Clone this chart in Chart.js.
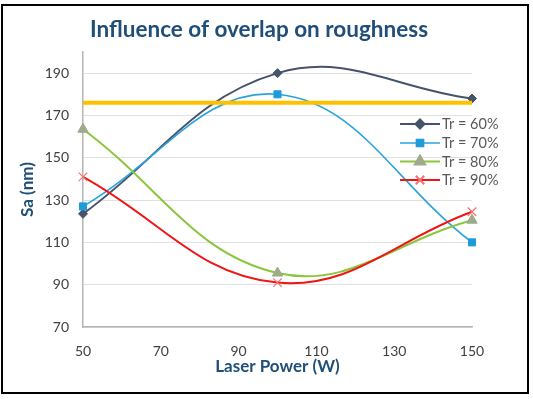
<!DOCTYPE html>
<html><head><meta charset="utf-8">
<script src="https://cdn.jsdelivr.net/npm/chart.js@4"></script>
<style>html,body{margin:0;padding:0;background:#fff}#wrap{position:relative;width:533px;height:399px}</style>
</head><body><div id="wrap"><canvas id="c" width="533" height="399"></canvas></div>
<script>
const chartTitle = 'Influence of overlap on roughness';
const xAxisTitle = 'Laser Power (W)';
const yAxisTitle = 'Sa (nm)';
const laserPower = [50, 100, 150];
const tr60 = [123.5, 190, 178];
const tr70 = [127, 180, 110];
const tr80 = [163.5, 95.5, 120.5];
const tr90 = [141, 91, 124.5];
const thresholdValue = 176;
const seriesLabels = ['Tr = 60%', 'Tr = 70%', 'Tr = 80%', 'Tr = 90%'];
const xTicks = [50, 70, 90, 110, 130, 150];
const yTicks = [70, 90, 110, 130, 150, 170, 190];

const FONT = 'Lato';
const toPts = (vals) => vals.map((v, i) => ({x: laserPower[i], y: v}));

const seriesStyles = [
  {line: '#44546A', point: '#44546A', style: 'rectRot', r: 4.5, w: 2},
  {line: '#29A3DE', point: '#1F9BD8', style: 'rect', r: 5, w: 1.6},
  {line: '#8CC63F', point: '#9DAA8C', style: 'triangle', r: 6, w: 2},
  {line: '#F01515', point: '#F27272', style: 'crossRot', r: 6, w: 2}
];
const seriesData = [tr60, tr70, tr80, tr90];

const datasets = seriesData.map((vals, i) => ({
  label: seriesLabels[i],
  data: toPts(vals),
  borderColor: seriesStyles[i].line,
  borderWidth: seriesStyles[i].w,
  backgroundColor: seriesStyles[i].point,
  pointBackgroundColor: seriesStyles[i].point,
  pointBorderColor: seriesStyles[i].point,
  pointBorderWidth: seriesStyles[i].style === 'crossRot' ? 1.2 : 1,
  pointStyle: seriesStyles[i].style,
  pointRadius: seriesStyles[i].r,
  tension: 0.4,
  clip: false,
  order: 4 - i
}));
datasets.push({
  label: 'threshold',
  data: [{x: laserPower[0], y: thresholdValue}, {x: laserPower[laserPower.length - 1], y: thresholdValue}],
  borderColor: '#FFC000',
  borderWidth: 4,
  pointRadius: 0,
  tension: 0,
  order: 0
});

const decorPlugin = {
  id: 'decor',
  afterDraw(chart) {
    const ctx = chart.ctx;
    ctx.save();
    // frame
    ctx.strokeStyle = '#000';
    ctx.lineWidth = 2;
    ctx.strokeRect(2, 5, 526, 388);
    // title
    ctx.fillStyle = '#1F4E79';
    ctx.font = 'bold 22.5px ' + FONT;
    ctx.textAlign = 'center';
    ctx.textBaseline = 'middle';
    ctx.fillText(chartTitle, 259, 30);
    // legend
    const rows = [124, 143, 161.5, 180];
    ctx.font = '14.5px ' + FONT;
    ctx.textAlign = 'left';
    seriesLabels.forEach((lab, i) => {
      const s = seriesStyles[i];
      const y = rows[i];
      ctx.strokeStyle = s.line;
      ctx.lineWidth = s.w;
      ctx.beginPath();
      ctx.moveTo(400, y);
      ctx.lineTo(440, y);
      ctx.stroke();
      ctx.fillStyle = s.point;
      ctx.strokeStyle = s.point;
      Chart.helpers.drawPoint(ctx, {pointStyle: s.style, radius: s.r, rotation: 0, borderWidth: s.style === 'crossRot' ? 1.2 : 1}, 420, y);
      ctx.fillStyle = '#595959';
      ctx.fillText(lab, 442, y + 0.5);
    });
    ctx.restore();
  }
};

new Chart(document.getElementById('c'), {
  type: 'line',
  data: {datasets},
  plugins: [decorPlugin],
  options: {
    responsive: false,
    animation: false,
    layout: {padding: {top: 52, right: 61, left: 0, bottom: 0}},
    plugins: {legend: {display: false}, title: {display: false}, tooltip: {enabled: false}},
    scales: {
      x: {
        type: 'linear', min: 50, max: 150,
        afterBuildTicks: (s) => { s.ticks = xTicks.map(v => ({value: v})); },
        afterFit: (s) => { s.height = 72; },
        grid: {display: false, drawTicks: false},
        border: {color: '#B5B5B5', width: 1.5},
        ticks: {color: '#404040', font: {family: FONT, size: 14}, padding: 16, maxRotation: 0},
        title: {display: true, text: xAxisTitle, color: '#1F4E79', font: {family: FONT, size: 17, weight: 'bold'}, padding: {top: 0, bottom: 22}}
      },
      y: {
        type: 'linear', min: 70, max: 200,
        afterBuildTicks: (s) => { s.ticks = yTicks.map(v => ({value: v})); },
        afterFit: (s) => { s.width = 83; },
        grid: {color: '#E0E0E0', lineWidth: 1, drawTicks: false},
        border: {color: '#B5B5B5', width: 1.5},
        ticks: {color: '#404040', font: {family: FONT, size: 14}, padding: 14},
        title: {display: true, text: yAxisTitle, color: '#1F4E79', font: {family: FONT, size: 17, weight: 'bold'}, padding: {top: 17, bottom: 0}}
      }
    }
  }
});
</script></body></html>
